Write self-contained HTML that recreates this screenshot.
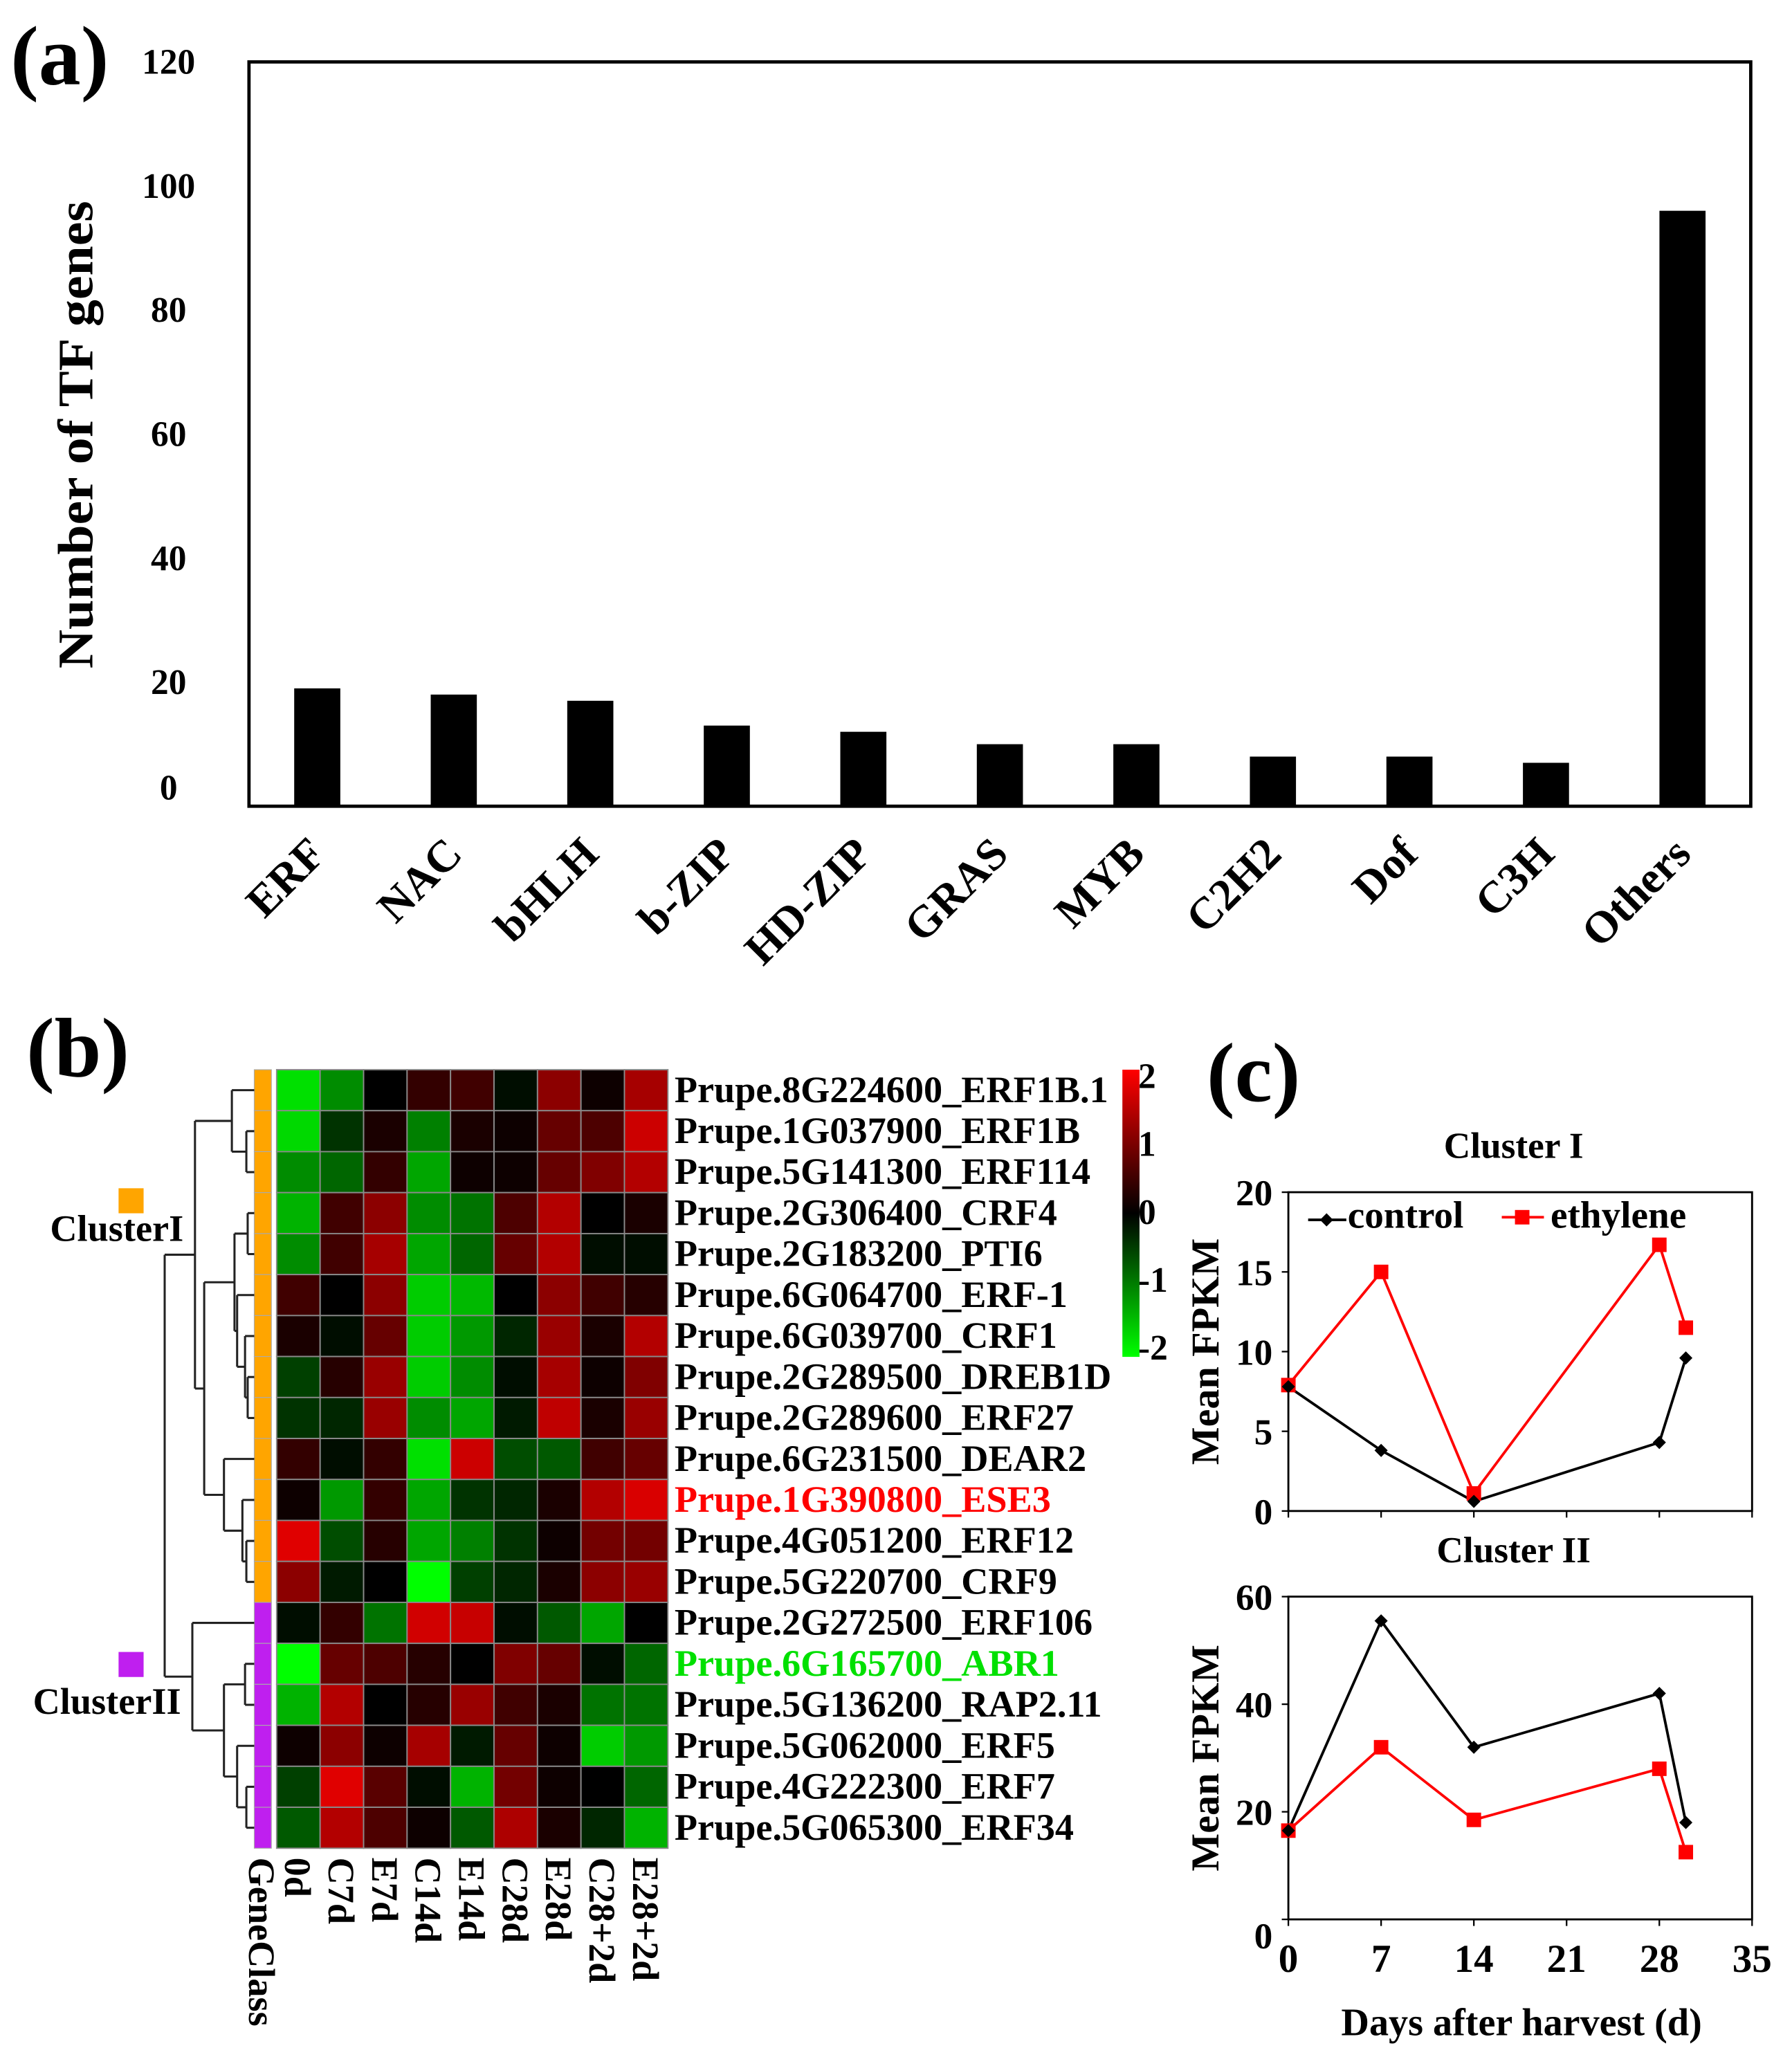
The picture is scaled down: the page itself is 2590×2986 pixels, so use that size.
<!DOCTYPE html>
<html><head><meta charset="utf-8"><style>
html,body{margin:0;padding:0;background:#fff}
svg{display:block}
text{font-family:"Liberation Serif",serif;font-weight:bold;fill:#000}
</style></head><body>
<svg id="fig" xmlns="http://www.w3.org/2000/svg" width="2590" height="2986" viewBox="0 0 1360.3 1568.3">
<g id="pa"></g>
<g id="pb"></g>
<g id="pc"></g>
</svg>
<script>
// ---------- Panel (a) data ----------
const tfCategories = ["ERF","NAC","bHLH","b-ZIP","HD-ZIP","GRAS","MYB","C2H2","Dof","C3H","Others"];
const tfCounts = [19,18,17,13,12,10,10,8,8,7,96];
const tfTicks = [0,20,40,60,80,100,120];

// ---------- Panel (b) data ----------
const geneNames = ["Prupe.8G224600_ERF1B.1","Prupe.1G037900_ERF1B","Prupe.5G141300_ERF114","Prupe.2G306400_CRF4","Prupe.2G183200_PTI6","Prupe.6G064700_ERF-1","Prupe.6G039700_CRF1","Prupe.2G289500_DREB1D","Prupe.2G289600_ERF27","Prupe.6G231500_DEAR2","Prupe.1G390800_ESE3","Prupe.4G051200_ERF12","Prupe.5G220700_CRF9","Prupe.2G272500_ERF106","Prupe.6G165700_ABR1","Prupe.5G136200_RAP2.11","Prupe.5G062000_ERF5","Prupe.4G222300_ERF7","Prupe.5G065300_ERF34"];
const geneClass = [1,1,1,1,1,1,1,1,1,1,1,1,1,2,2,2,2,2,2];
const sampleNames = ["0d","C7d","E7d","C14d","E14d","C28d","E28d","C28+2d","E28+2d"];
const heatValues = [
[-1.76,-1.1,0,0.4,0.5,-0.1,1.1,0.1,1.3],
[-1.7,-0.4,0.2,-1.0,0.2,0.1,0.8,0.6,1.6],
[-1.1,-0.8,0.4,-1.3,0.1,0.1,0.8,1.0,1.4],
[-1.4,0.5,1.1,-1.1,-0.9,0.6,1.4,0,0.2],
[-1.1,0.5,1.3,-1.3,-0.8,0.8,1.4,-0.1,-0.1],
[0.5,0,1.1,-1.6,-1.45,0,1.1,0.5,0.3],
[0.2,-0.1,0.8,-1.6,-1.2,-0.3,1.2,0.2,1.4],
[-0.5,0.3,1.2,-1.6,-1.1,-0.1,1.3,0.1,1.0],
[-0.4,-0.3,1.2,-1.1,-1.3,-0.2,1.5,0.2,1.2],
[0.4,-0.1,0.4,-1.76,1.6,-0.6,-0.7,0.5,0.8],
[0.1,-1.2,0.4,-1.3,-0.4,-0.3,0.2,1.4,1.7],
[1.76,-0.6,0.3,-1.3,-1.0,-0.4,0.1,0.9,0.9],
[1.1,-0.2,0,-2,-0.5,-0.3,0.2,1.1,1.2],
[-0.1,0.4,-0.9,1.64,1.56,-0.1,-0.7,-1.3,0],
[-2,0.8,0.6,0.3,0,1.0,0.8,-0.1,-0.8],
[-1.4,1.4,0,0.3,1.2,0.5,0.2,-0.9,-0.9],
[0.1,1.1,0.1,1.3,-0.2,0.8,0.1,-1.6,-1.2],
[-0.5,1.76,0.7,-0.1,-1.4,0.9,0.1,0,-0.8],
[-0.7,1.4,0.6,0.1,-0.7,1.36,0.2,-0.3,-1.4]];
const colorbarTicks = [2,1,0,-1,-2];

// ---------- Panel (c) data ----------
const days = [0,7,14,28,30];
const c1Control = [7.8,3.8,0.6,4.3,9.6];
const c1Ethylene = [7.9,15.0,1.1,16.7,11.5];
const c2Control = [16.5,55.5,32,42,18];
const c2Ethylene = [16.5,32,18.5,28,12.5];
const dayTicks = [0,7,14,21,28,35];
const c1Ticks = [0,5,10,15,20];
const c2Ticks = [0,20,40,60];

const NS="http://www.w3.org/2000/svg";
function mk(parent,tag,attrs,txt){const e=document.createElementNS(NS,tag);for(const k in attrs)e.setAttribute(k,attrs[k]);if(txt!==undefined)e.textContent=txt;parent.appendChild(e);return e;}

// ===== Panel a =====
const pa=document.getElementById('pa');
const A={x0:189,x1:1329,y0:47,y1:612,max:120};
const ay=v=>A.y1-(v/A.max)*(A.y1-A.y0);
const bw=(A.x1-A.x0)/tfCategories.length;
const ax=i=>A.x0+bw*(i+0.5);
let t=mk(pa,'text',{x:8,y:64,'font-size':64},'(a)');


let fr=mk(pa,'rect',{x:A.x0,y:A.y0,width:A.x1-A.x0,height:A.y1-A.y0,fill:'none',stroke:'#000','stroke-width':2.5});


tfTicks.forEach(v=>{
  const e=mk(pa,'text',{x:128,y:ay(v)+9-(v===0?14:0),'font-size':27,'text-anchor':'middle'},String(v));
  
  
});
t=mk(pa,'text',{x:0,y:0,'font-size':38,'text-anchor':'middle',transform:'translate(70,330) rotate(-90)',textLength:355,lengthAdjust:'spacingAndGlyphs'},'Number of TF genes');


tfCategories.forEach((c,i)=>{
  const r=mk(pa,'rect',{x:ax(i)-17.5,y:ay(tfCounts[i]),width:35,height:A.y1-ay(tfCounts[i]),fill:'#000'});
  
  
  const l=mk(pa,'text',{x:0,y:0,'font-size':34,'text-anchor':'end',transform:`translate(${ax(i)+8},${650}) rotate(-45)`},c);
  
  
});

// ===== Panel b =====
const pb=document.getElementById('pb');
t=mk(pb,'text',{x:20,y:817,'font-size':64},'(b)');


const H={x0:210,x1:507,y0:812,y1:1403};
const cw=(H.x1-H.x0)/sampleNames.length, rh=(H.y1-H.y0)/geneNames.length;
function col(v){const s=Math.max(-1,Math.min(1,v/2));const c=Math.round(255*Math.abs(s));return s>=0?`rgb(${c},0,0)`:`rgb(0,${c},0)`;}
heatValues.forEach((row,r)=>row.forEach((v,c)=>{
  const e=mk(pb,'rect',{x:H.x0+c*cw,y:H.y0+r*rh,width:cw,height:rh,fill:col(v),stroke:'#8a8a8a','stroke-width':1});
  
  
}));
geneClass.forEach((g,r)=>{
  const e=mk(pb,'rect',{x:193,y:H.y0+r*rh,width:13,height:rh,fill:g===1?'#ffa500':'#bf1fef',stroke:'#aaa','stroke-width':0.6});
  
  
});
geneNames.forEach((n,r)=>{
  const fill=r===10?'#ff0000':(r===14?'#00e000':'#000');
  const e=mk(pb,'text',{x:512,y:H.y0+r*rh+rh/2+9,'font-size':28.5,style:'fill:'+fill},n);
  
  
});
sampleNames.forEach((s,c)=>{
  const e=mk(pb,'text',{x:0,y:0,'font-size':28.5,transform:`translate(${H.x0+c*cw+cw/2-10},1410) rotate(90)`},s);
  
  
});
t=mk(pb,'text',{x:0,y:0,'font-size':28.5,transform:'translate(189,1410) rotate(90)'},'GeneClass');


// colorbar
const grad=mk(document.getElementById('fig'),'defs',{});
const lg=mk(grad,'linearGradient',{id:'cb',x1:0,y1:0,x2:0,y2:1});
mk(lg,'stop',{offset:'0','stop-color':'#ff0000'});mk(lg,'stop',{offset:'0.5','stop-color':'#000'});mk(lg,'stop',{offset:'1','stop-color':'#00ff00'});
t=mk(pb,'rect',{x:852,y:812,width:13,height:218,fill:'url(#cb)'});


colorbarTicks.forEach((v,i)=>{
  const e=mk(pb,'text',{x:864,y:812+(2-v)/4*206+14,'font-size':27},String(v));
  
  
});
// dendrogram
const rowY=r=>H.y0+r*rh+rh/2;
const tree={x:125,c:[
 {x:148,c:[{x:176,c:[0,{x:187,c:[1,2]}]},{x:155,c:[{x:178,c:[{x:188,c:[3,4]},{x:180,c:[5,{x:186,c:[6,{x:188,c:[7,8]}]}]}]},{x:170,c:[9,{x:184,c:[10,{x:187,c:[11,12]}]}]}]}]},
 {x:146,c:[13,{x:170,c:[{x:186,c:[14,15]},{x:180,c:[16,{x:187,c:[17,18]}]}]}]}]};
const dg=mk(pb,'g',{stroke:'#222','stroke-width':1.6,fill:'none'});


function draw(n){
  if(typeof n==='number') return {y:rowY(n),x:193};
  const ch=n.c.map(draw);
  ch.forEach(c=>mk(dg,'line',{x1:n.x,y1:c.y,x2:c.x,y2:c.y}));
  mk(dg,'line',{x1:n.x,y1:ch[0].y,x2:n.x,y2:ch[ch.length-1].y});
  return {y:(ch[0].y+ch[ch.length-1].y)/2,x:n.x};
}
draw(tree);
t=mk(pb,'rect',{x:90,y:902,width:19,height:19,fill:'#ffa500'});

t=mk(pb,'text',{x:38,y:942,'font-size':28.5},'ClusterI');

t=mk(pb,'rect',{x:90,y:1254,width:19,height:19,fill:'#bf1fef'});

t=mk(pb,'text',{x:25,y:1301,'font-size':28.5},'ClusterII');


// ===== Panel c =====
const pc=document.getElementById('pc');
t=mk(pc,'text',{x:916,y:836,'font-size':64},'(c)');

const X0=978,X1=1330;
const cx=d=>X0+d/35*(X1-X0);
function plot(y0,y1,max,ticks,ctrl,eth,title,name,zeroDrop){
  const g=mk(pc,'g',{});
  
  
  const yy=v=>y1-v/max*(y1-y0);
  let e=mk(g,'rect',{x:X0,y:y0,width:X1-X0,height:y1-y0,fill:'none',stroke:'#000','stroke-width':1.5});
  
  e=mk(g,'text',{x:(X0+X1)/2-5,y:y0-26,'font-size':28,'text-anchor':'middle'},title);
  
  ticks.forEach(v=>{
    mk(g,'line',{x1:X0-5,y1:yy(v),x2:X0,y2:yy(v),stroke:'#000','stroke-width':1.2});
    const l=mk(g,'text',{x:X0-12,y:yy(v)+10+(v===0?zeroDrop:0),'font-size':28,'text-anchor':'end'},String(v));
    
  });
  dayTicks.forEach(d=>mk(g,'line',{x1:cx(d),y1:y1,x2:cx(d),y2:y1+5,stroke:'#000','stroke-width':1.2}));
  e=mk(g,'text',{x:0,y:0,'font-size':30,'text-anchor':'middle',transform:`translate(925,${(y0+y1)/2}) rotate(-90)`,textLength:172,lengthAdjust:'spacingAndGlyphs'},'Mean FPKM');
  
  const cp=days.map((d,i)=>cx(d)+','+yy(ctrl[i])).join(' ');
  const ep=days.map((d,i)=>cx(d)+','+yy(eth[i])).join(' ');
  e=mk(g,'polyline',{points:ep,fill:'none',stroke:'#ff0000','stroke-width':2});
  
  e=mk(g,'polyline',{points:cp,fill:'none',stroke:'#000','stroke-width':2});
  
  days.forEach((d,i)=>{
    const p=mk(g,'rect',{x:cx(d)-5.5,y:yy(eth[i])-5.5,width:11,height:11,fill:'#ff0000'});
    
    const q=mk(g,'path',{d:`M${cx(d)},${yy(ctrl[i])-5} l5,5 l-5,5 l-5,-5z`,fill:'#000'});
    
  });
}
plot(905,1147,20,c1Ticks,c1Control,c1Ethylene,'Cluster I','cluster-i-plot',0);
plot(1212,1457,60,c2Ticks,c2Control,c2Ethylene,'Cluster II','cluster-ii-plot',12);
// legend
const lgd=mk(pc,'g',{});

mk(lgd,'line',{x1:993,y1:926,x2:1022,y2:926,stroke:'#000','stroke-width':2});
mk(lgd,'path',{d:'M1007,921 l5,5 l-5,5 l-5,-5z',fill:'#000'});
t=mk(lgd,'text',{x:1023,y:932,'font-size':29},'control');

mk(lgd,'line',{x1:1140,y1:924,x2:1172,y2:924,stroke:'#ff0000','stroke-width':2});
mk(lgd,'rect',{x:1150,y:918.5,width:11,height:11,fill:'#ff0000'});
t=mk(lgd,'text',{x:1177,y:932,'font-size':29},'ethylene');

dayTicks.forEach(d=>{
  const e=mk(pc,'text',{x:cx(d),y:1497,'font-size':30,'text-anchor':'middle'},String(d));
  
});
t=mk(pc,'text',{x:1155,y:1545,'font-size':29.5,'text-anchor':'middle'},'Days after harvest (d)');

</script>
</body></html>
